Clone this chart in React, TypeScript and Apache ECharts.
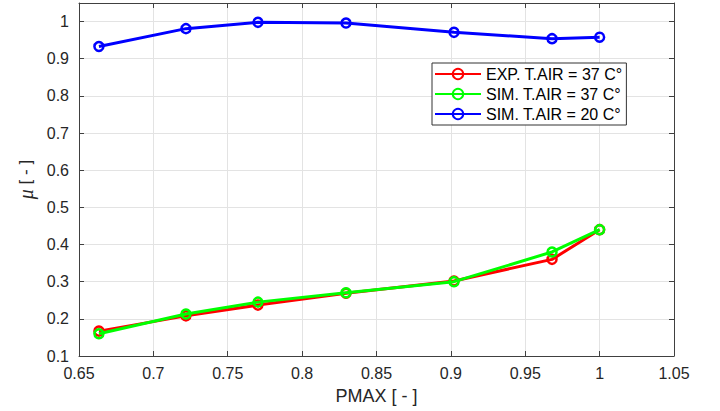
import React, { useEffect, useRef } from "react";
import * as echarts from "echarts";

const pmax = [0.6634, 0.7219, 0.7703, 0.8295, 0.9021, 0.968, 1.0];
const expT37 = [0.167, 0.208, 0.237, 0.269, 0.302, 0.360, 0.440];
const simT37 = [0.160, 0.213, 0.245, 0.270, 0.300, 0.380, 0.440];
const simT20 = [0.933, 0.981, 0.998, 0.996, 0.971, 0.954, 0.958];
const seriesNames = ["EXP. T.AIR = 37 C°", "SIM. T.AIR = 37 C°", "SIM. T.AIR = 20 C°"];
const seriesColors = ["#ff0000", "#00ff00", "#0000ff"];

const pair = (ys: number[]) => pmax.map((x, i) => [x, ys[i]]);

export default function App() {
  const ref = useRef<HTMLDivElement>(null);
  useEffect(() => {
    if (!ref.current) return;
    const chart = echarts.init(ref.current, null, { renderer: "svg" });
    const font = "'Liberation Sans', Arial, sans-serif";
    const axisColor = "#404040";
    const labelColor = "#262626";
    const data = [expT37, simT37, simT20];
    chart.setOption({
      animation: false,
      backgroundColor: "#ffffff",
      textStyle: { fontFamily: font },
      grid: { left: 79, right: 46, top: 3, bottom: 55, containLabel: false },
      legend: {
        left: 432,
        top: 63,
        orient: "vertical",
        itemWidth: 46,
        itemHeight: 13,
        itemGap: 4,
        padding: [3, 4, 3, 2],
        borderColor: "#333333",
        borderWidth: 1,
        backgroundColor: "#ffffff",
        textStyle: { fontFamily: font, fontSize: 16, color: "#000000" },
        data: seriesNames,
      },
      xAxis: [
        {
          type: "value",
          min: 0.65,
          max: 1.05,
          interval: 0.05,
          name: "PMAX [ - ]",
          nameLocation: "middle",
          nameGap: 31,
          nameTextStyle: { fontSize: 18, color: labelColor, fontFamily: font },
          axisLine: { show: true, lineStyle: { color: axisColor, width: 1 } },
          axisTick: { show: true, inside: true, length: 5, lineStyle: { color: axisColor } },
          axisLabel: {
            fontSize: 16,
            color: labelColor,
            margin: 9,
            formatter: (v: number) => parseFloat(v.toFixed(2)).toString(),
          },
          splitLine: { show: true, lineStyle: { color: "#e3e3e3", width: 1 } },
        },
        {
          type: "value",
          position: "top",
          min: 0.65,
          max: 1.05,
          interval: 0.05,
          axisLine: { show: true, lineStyle: { color: axisColor, width: 1 } },
          axisTick: { show: true, inside: true, length: 5, lineStyle: { color: axisColor } },
          axisLabel: { show: false },
          splitLine: { show: false },
        },
      ],
      yAxis: [
        {
          type: "value",
          min: 0.1,
          max: 1.05,
          interval: 0.1,
          name: "{i|μ} [ - ]",
          nameLocation: "middle",
          nameGap: 42,
          nameTextStyle: {
            fontSize: 17,
            color: labelColor,
            fontFamily: font,
            rich: { i: { fontStyle: "italic", fontSize: 20, fontFamily: "'Liberation Serif', serif", color: labelColor } },
          },
          axisLine: { show: true, lineStyle: { color: axisColor, width: 1 } },
          axisTick: { show: true, inside: true, length: 5, lineStyle: { color: axisColor } },
          axisLabel: {
            fontSize: 16,
            color: labelColor,
            margin: 10,
            formatter: (v: number) => {
              const r = Math.round(v * 10) / 10;
              return Math.abs(r - v) < 1e-6 ? r.toString() : "";
            },
          },
          splitLine: { show: true, lineStyle: { color: "#e3e3e3", width: 1 } },
        },
        {
          type: "value",
          position: "right",
          min: 0.1,
          max: 1.05,
          interval: 0.1,
          axisLine: { show: true, lineStyle: { color: axisColor, width: 1 } },
          axisTick: { show: true, inside: true, length: 5, lineStyle: { color: axisColor } },
          axisLabel: { show: false },
          splitLine: { show: false },
        },
      ],
      series: data.map((ys, i) => ({
        name: seriesNames[i],
        type: "line",
        data: pair(ys),
        xAxisIndex: 0,
        yAxisIndex: 0,
        symbol: "circle",
        symbolSize: 9,
        lineStyle: { color: seriesColors[i], width: 3 },
        itemStyle: { color: "rgba(0,0,0,0)", borderColor: seriesColors[i], borderWidth: 2.5 },
        z: 2 + i,
      })),
    });
    return () => chart.dispose();
  }, []);
  return (
    <div
      ref={ref}
      style={{ position: "absolute", left: 0, top: 0, width: 720, height: 411 }}
    />
  );
}
